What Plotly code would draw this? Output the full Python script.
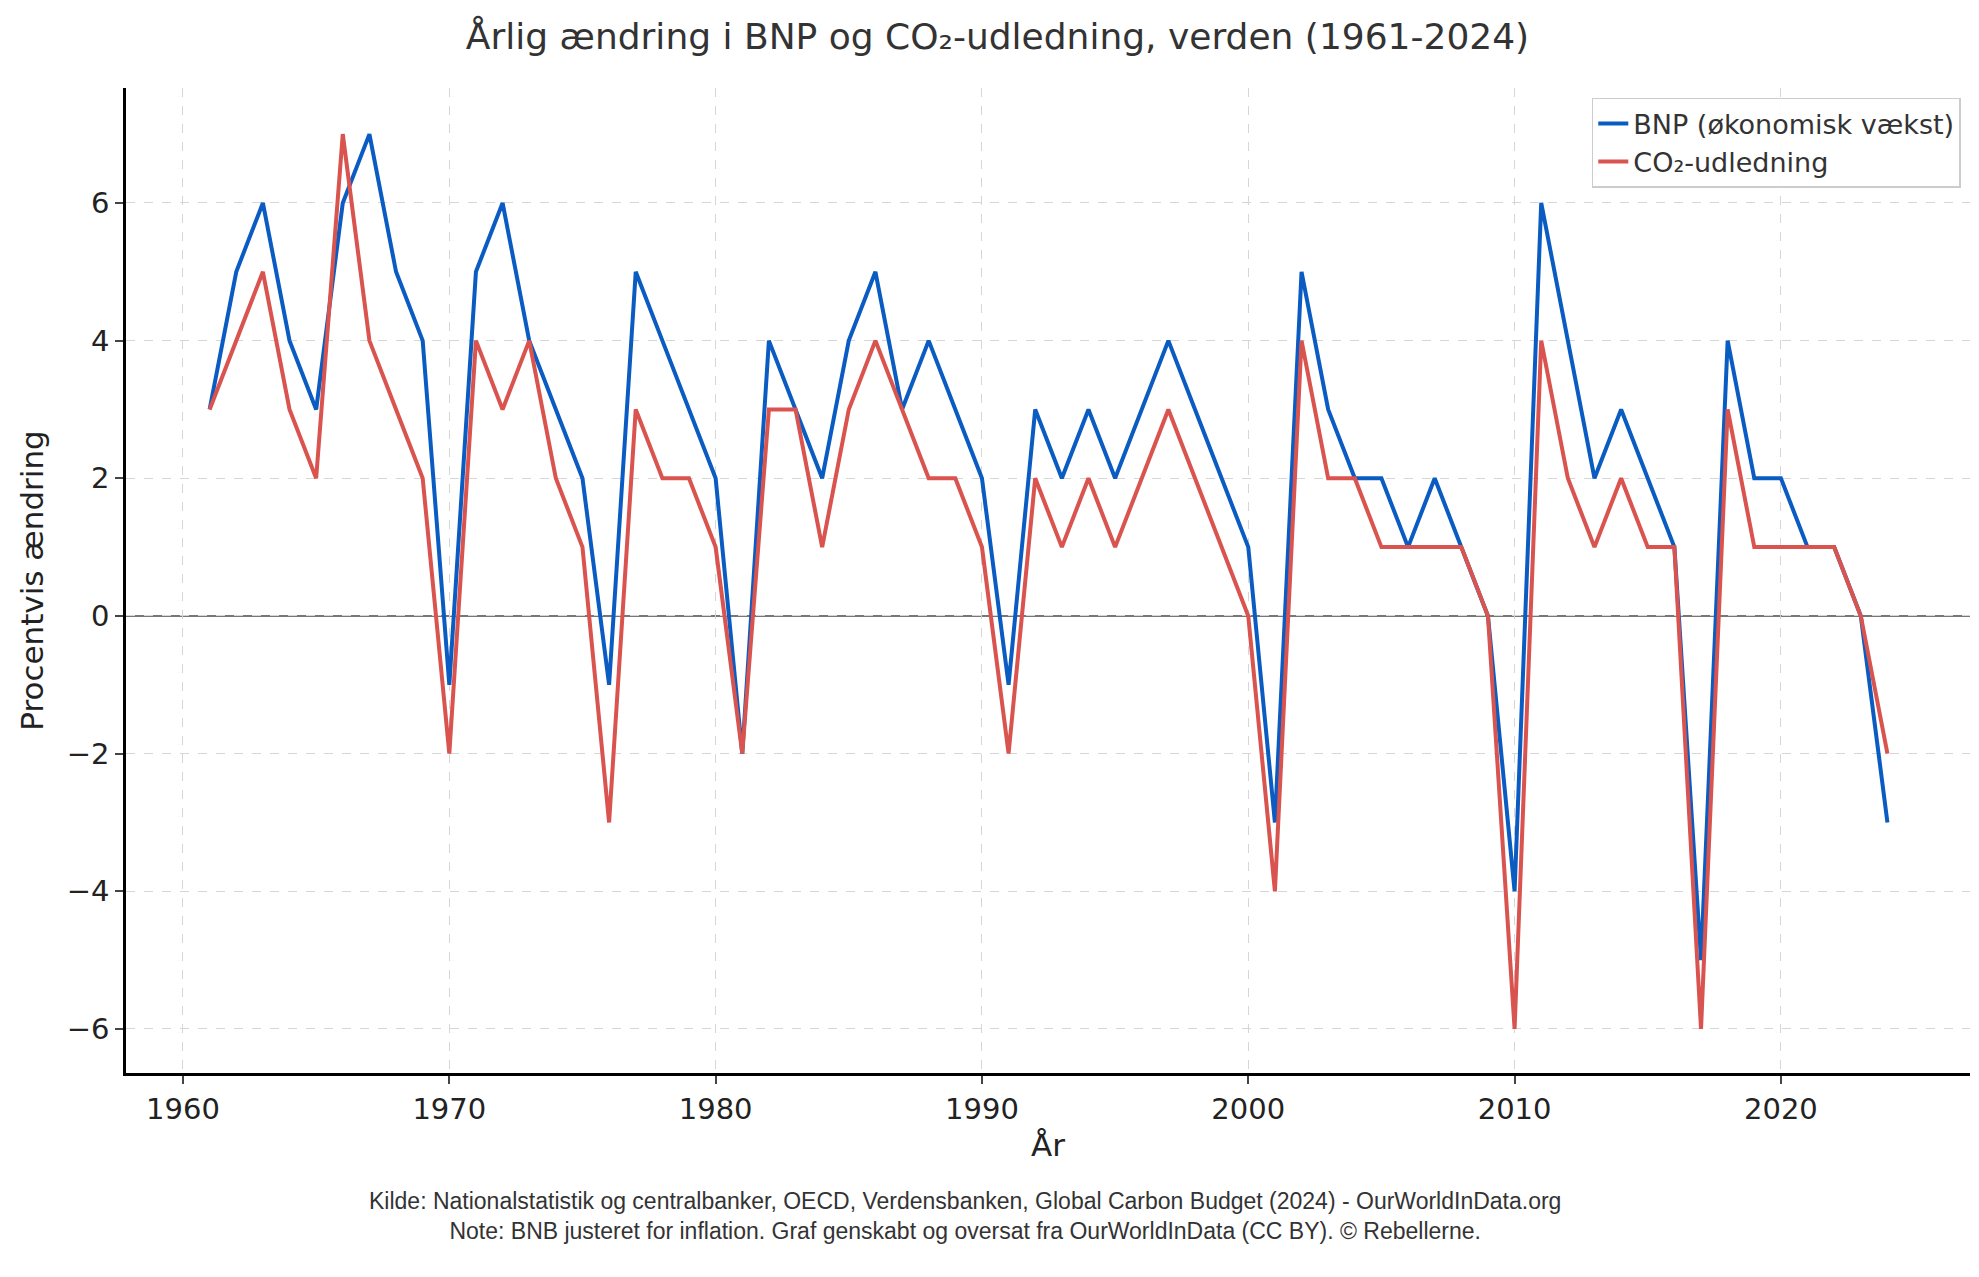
import plotly.graph_objects as go

## data
years = list(range(1961, 2025))
bnp = [3, 5, 6, 4, 3, 6, 7, 5, 4, -1,
       5, 6, 4, 3, 2, -1, 5, 4, 3, 2,
       -2, 4, 3, 2, 4, 5, 3, 4, 3, 2,
       -1, 3, 2, 3, 2, 3, 4, 3, 2, 1,
       -3, 5, 3, 2, 2, 1, 2, 1, 0, -4,
       6, 4, 2, 3, 2, 1, -5, 4, 2, 2,
       1, 1, 0, -3]
co2 = [3, 4, 5, 3, 2, 7, 4, 3, 2, -2,
       4, 3, 4, 2, 1, -3, 3, 2, 2, 1,
       -2, 3, 3, 1, 3, 4, 3, 2, 2, 1,
       -2, 2, 1, 2, 1, 2, 3, 2, 1, 0,
       -4, 4, 2, 2, 1, 1, 1, 1, 0, -6,
       4, 2, 1, 2, 1, 1, -6, 3, 1, 1,
       1, 1, 0, -2]

FONT = 'DejaVu Sans'
grid = dict(showgrid=True, gridcolor='#d6d6d6', griddash='dash', gridwidth=1)

fig = go.Figure()
fig.add_trace(go.Scatter(x=years, y=bnp, mode='lines', name='BNP (økonomisk vækst)',
                         line=dict(color='#0a5cc2', width=4)))
fig.add_trace(go.Scatter(x=years, y=co2, mode='lines', name='CO₂-udledning',
                         line=dict(color='#d9534f', width=4)))
fig.add_hline(y=0, line=dict(color='#777777', width=2), layer='below')

fig.update_layout(
    width=1979, height=1277,
    plot_bgcolor='white', paper_bgcolor='white',
    margin=dict(l=118, r=17, t=80, b=212),
    font=dict(family=FONT, size=29, color='#222'),
    title=dict(text='Årlig ændring i BNP og CO₂-udledning, verden (1961-2024)',
               x=0.5, xanchor='center', y=0.988, yanchor='top',
               font=dict(size=36, color='#333')),
    legend=dict(x=0.995, xanchor='right', y=0.99, yanchor='top',
                bgcolor='rgba(255,255,255,0.9)', bordercolor='#ccc', borderwidth=1.5,
                font=dict(size=27, color='#333')),
    xaxis=dict(range=[1957.86, 2027.1], tickvals=[1960, 1970, 1980, 1990, 2000, 2010, 2020],
               title=dict(text='År', font=dict(size=31), standoff=10),
               showline=True, linecolor='black', linewidth=2.5, ticks='outside',
               ticklen=8, tickwidth=2, zeroline=False, **grid),
    yaxis=dict(range=[-6.64, 7.67], tickvals=[-6, -4, -2, 0, 2, 4, 6],
               ticktext=['−6', '−4', '−2', '0', '2', '4', '6'],
               title=dict(text='Procentvis ændring', font=dict(size=31), standoff=14),
               showline=True, linecolor='black', linewidth=2.5, ticks='outside',
               ticklen=8, tickwidth=2, zeroline=False, **grid),
)

fig.add_annotation(
    text='Kilde: Nationalstatistik og centralbanker, OECD, Verdensbanken, Global Carbon Budget (2024) - OurWorldInData.org'
         '<br>Note: BNB justeret for inflation. Graf genskabt og oversat fra OurWorldInData (CC BY). © Rebellerne.',
    xref='paper', yref='paper', x=0.455, y=-0.115, xanchor='center', yanchor='top',
    showarrow=False, font=dict(family='Liberation Sans', size=23, color='#333'))

fig.write_html('out.html')
